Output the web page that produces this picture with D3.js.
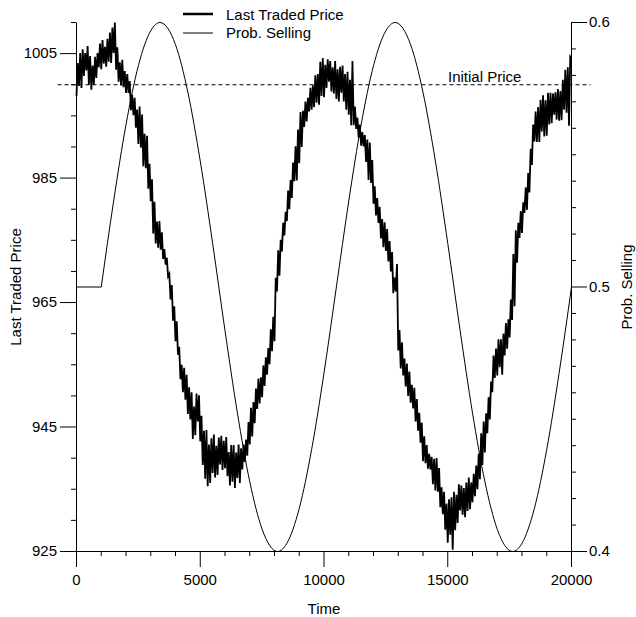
<!DOCTYPE html>
<html>
<head>
<meta charset="utf-8">
<script src="https://cdn.jsdelivr.net/npm/d3@7"></script>
<style>
  body { margin: 0; background: #fff; }
  svg { display: block; font-family: "Liberation Sans", Arial, Helvetica, sans-serif; }
</style>
</head>
<body>
<div id="chart"></div>
<script>
// last traded price, one reading every 50 time steps (0 .. 20000)
const priceStep = 50;
const priceValues = [
  998.2, 1003.5, 999.8, 1005.1, 999.5, 1005.7, 1001.4, 1005.1, 1002.3, 1006.2,
  1000.0, 1004.6, 999.2, 1003.1, 1000.0, 1004.5, 1001.1, 1005.1, 1002.8, 1006.6,
  1002.5, 1007.2, 1003.4, 1006.1, 1002.9, 1007.4, 1003.7, 1008.4, 1003.5, 1009.2,
  1005.1, 1010.0, 1002.4, 1006.0, 1000.5, 1003.6, 999.9, 1004.0, 999.6, 1002.2,
  998.7, 1001.7, 998.7, 1000.6, 995.9, 998.4, 995.1, 997.9, 993.1, 996.0,
  990.5, 996.5, 989.9, 995.2, 986.9, 992.1, 986.6, 991.8, 983.3, 987.3,
  981.3, 984.8, 976.1, 981.2, 974.5, 978.0, 973.8, 978.1, 973.5, 976.3,
  972.0, 973.6, 971.1, 972.2, 969.2, 969.6, 965.5, 967.8, 962.1, 964.4,
  958.8, 962.0, 956.6, 957.9, 952.7, 955.0, 950.6, 954.5, 949.4, 953.4,
  947.1, 951.4, 946.2, 950.6, 943.1, 948.3, 943.7, 950.4, 945.9, 950.1,
  942.7, 946.8, 938.9, 944.4, 936.7, 944.5, 935.5, 942.2, 936.0, 943.2,
  937.6, 943.8, 936.9, 942.0, 937.3, 943.3, 939.0, 943.6, 938.1, 942.8,
  938.4, 943.4, 937.1, 941.0, 935.6, 942.1, 936.2, 942.1, 935.2, 940.9,
  936.8, 942.2, 936.0, 941.6, 938.2, 942.2, 939.4, 943.0, 940.4, 945.8,
  942.2, 948.1, 943.5, 949.0, 945.6, 951.2, 947.9, 952.8, 948.8, 953.0,
  949.8, 954.9, 951.6, 956.2, 953.4, 957.7, 955.1, 960.7, 957.2, 962.7,
  958.8, 969.0, 966.8, 973.4, 969.3, 975.1, 973.2, 977.8, 975.8, 979.6,
  978.1, 983.0, 980.0, 984.7, 981.8, 987.5, 984.5, 990.1, 984.6, 992.8,
  987.4, 995.6, 990.0, 995.8, 993.2, 997.3, 994.1, 997.9, 995.7, 999.5,
  996.0, 999.9, 996.4, 1001.5, 997.1, 1001.7, 996.8, 1003.7, 998.2, 1004.3,
  998.0, 1003.2, 999.5, 1004.1, 1000.5, 1003.8, 998.9, 1002.8, 998.6, 1003.8,
  997.7, 1002.5, 997.3, 1002.9, 998.7, 1003.1, 997.3, 1001.7, 996.0, 1002.1,
  995.2, 1000.8, 993.5, 1003.8, 993.5, 996.5, 992.9, 994.7, 991.5, 993.6,
  990.2, 992.4, 990.1, 991.9, 987.6, 991.2, 984.7, 990.7, 984.2, 987.9,
  980.9, 983.7, 979.0, 981.8, 977.8, 980.4, 975.3, 978.4, 973.9, 977.9,
  973.3, 976.8, 971.6, 974.9, 970.0, 973.1, 966.5, 969.0, 966.8, 971.2,
  957.3, 960.6, 954.4, 958.6, 953.3, 956.0, 951.5, 955.2, 950.0, 953.9,
  948.9, 951.8, 948.0, 951.3, 945.9, 949.5, 944.4, 947.3, 942.5, 945.7,
  939.5, 943.5, 939.2, 942.1, 938.3, 940.7, 938.2, 940.2, 935.8, 939.9,
  934.8, 940.0, 934.6, 938.4, 932.1, 935.3, 931.0, 934.6, 928.5, 932.7,
  926.4, 933.4, 927.7, 933.7, 925.3, 934.6, 928.4, 934.1, 929.6, 935.8,
  931.6, 935.6, 930.9, 935.2, 930.5, 936.1, 931.5, 936.9, 931.8, 936.1,
  932.9, 937.5, 933.9, 938.8, 935.0, 940.7, 936.6, 944.0, 938.9, 945.9,
  940.9, 947.2, 944.0, 949.8, 946.2, 952.3, 950.6, 956.5, 952.9, 957.6,
  953.3, 959.1, 954.6, 959.1, 953.4, 960.0, 956.5, 961.7, 957.6, 962.3,
  959.4, 965.5, 962.2, 972.8, 964.4, 976.6, 971.4, 977.8, 975.4, 979.7,
  976.2, 981.1, 979.4, 983.5, 979.9, 985.8, 982.7, 989.7, 987.1, 993.6,
  990.9, 995.7, 990.8, 996.4, 990.8, 997.6, 992.5, 998.3, 991.7, 997.5,
  991.8, 998.7, 993.6, 998.7, 993.8, 998.6, 995.2, 998.8, 994.4, 999.3,
  994.2, 999.0, 994.3, 1000.8, 996.0, 1002.4, 995.5, 1002.8, 993.4, 1004.5,
  1004.2
];

// probability of selling: flat until 1000, then the swing
const probTimes = [0, 1000, 1500, 2000, 2500, 3000, 3375, 4000, 4500, 5000, 5500,
  6000, 6500, 7000, 7500, 8125, 8500, 9000, 9500, 10000, 10500, 11000, 11500,
  12000, 12500, 12875, 13500, 14000, 14500, 15000, 15500, 16000, 16500, 17000,
  17625, 18000, 18500, 19000, 19500, 20000];
const probValues = [0.5, 0.5, 0.5325, 0.5614, 0.5837, 0.5969, 0.6, 0.5916, 0.5736,
  0.5476, 0.5165, 0.4835, 0.4524, 0.4264, 0.4084, 0.4, 0.4031, 0.4163, 0.4386,
  0.4675, 0.5, 0.5325, 0.5614, 0.5837, 0.5969, 0.6, 0.5916, 0.5736, 0.5476,
  0.5165, 0.4835, 0.4524, 0.4264, 0.4084, 0.4, 0.4031, 0.4163, 0.4386, 0.4675, 0.5];

const initialPrice = 1000;
const priceTicks = [925, 945, 965, 985, 1005];
const probTicks = [0.4, 0.5, 0.6];
const timeTicks = [0, 5000, 10000, 15000, 20000];
const legendLabels = ["Last Traded Price", "Prob. Selling"];

//size of svg and plot box
let w = 636;
let h = 617;
let mLeft = 76, mRight = 571, mTop = 22, mBottom = 551;
let fontSize = 15;

let svg = d3.select("#chart")
  .append("svg")
  .attr("width", w)
  .attr("height", h);

let x = d3.scaleLinear().domain([0, 20000]).range([mLeft, mRight]);
let yPrice = d3.scaleLinear().domain([925, 1010]).range([mBottom, mTop]);
let yProb = d3.scaleLinear().domain([0.4, 0.6]).range([mBottom, mTop]);

// minor ticks first, then the labelled ones on top
function styleAxis(g) {
  g.attr("font-family", null).attr("font-size", fontSize);
  g.selectAll("line, path").attr("stroke", "#000");
}

svg.append("g")
  .attr("transform", `translate(${mLeft},0)`)
  .call(d3.axisLeft(yPrice)
    .tickValues(d3.range(925, 1011, 5).filter(v => !priceTicks.includes(v)))
    .tickSize(5).tickSizeOuter(0).tickFormat(""))
  .call(g => g.select(".domain").remove())
  .call(styleAxis);

svg.append("g")
  .attr("transform", `translate(${mLeft},0)`)
  .call(d3.axisLeft(yPrice).tickValues(priceTicks).tickSize(16).tickSizeOuter(0)
    .tickPadding(3).tickFormat(d3.format("d")))
  .call(styleAxis);

svg.append("g")
  .attr("transform", `translate(${mRight},0)`)
  .call(d3.axisRight(yProb)
    .tickValues(d3.range(40, 61).map(v => v / 100).filter(v => !probTicks.includes(v)))
    .tickSize(5).tickSizeOuter(0).tickFormat(""))
  .call(g => g.select(".domain").remove())
  .call(styleAxis);

svg.append("g")
  .attr("transform", `translate(${mRight},0)`)
  .call(d3.axisRight(yProb).tickValues(probTicks).tickSize(16).tickSizeOuter(0)
    .tickPadding(2).tickFormat(d3.format(".1f")))
  .call(styleAxis);

svg.append("g")
  .attr("transform", `translate(0,${mBottom})`)
  .call(d3.axisBottom(x)
    .tickValues(d3.range(0, 20001, 1000).filter(v => !timeTicks.includes(v)))
    .tickSize(5).tickSizeOuter(0).tickFormat(""))
  .call(g => g.select(".domain").remove())
  .call(styleAxis);

svg.append("g")
  .attr("transform", `translate(0,${mBottom})`)
  .call(d3.axisBottom(x).tickValues(timeTicks).tickSize(16).tickSizeOuter(0)
    .tickPadding(7).tickFormat(d3.format("d")))
  .call(styleAxis);

// axis titles
svg.append("text")
  .attr("x", (mLeft + mRight) / 2 + 0.5)
  .attr("y", 614)
  .attr("text-anchor", "middle")
  .attr("font-size", fontSize)
  .text("Time");

svg.append("text")
  .attr("transform", `translate(21,${(mTop + mBottom) / 2 + 0.5}) rotate(-90)`)
  .attr("text-anchor", "middle")
  .attr("font-size", fontSize)
  .text("Last Traded Price");

svg.append("text")
  .attr("transform", `translate(632,${(mTop + mBottom) / 2 + 0.5}) rotate(-90)`)
  .attr("text-anchor", "middle")
  .attr("font-size", fontSize)
  .text("Prob. Selling");

// plot lines, shifted half a pixel to sit on the axis grid
let plot = svg.append("g").attr("transform", "translate(0.5,0.5)");

plot.append("line")
  .attr("x1", 57).attr("x2", 590)
  .attr("y1", yPrice(initialPrice)).attr("y2", yPrice(initialPrice))
  .attr("stroke", "#000")
  .attr("stroke-width", 1)
  .attr("stroke-dasharray", "4,3");

plot.append("text")
  .attr("x", 447.5)
  .attr("y", yPrice(initialPrice) - 3)
  .attr("font-size", fontSize)
  .text("Initial Price");

// flat start and the smooth swing are drawn as two pieces so the corner stays sharp
let probPoints = probTimes.map((t, i) => [t, probValues[i]]);
let probLine = d3.line()
  .x(d => x(d[0]))
  .y(d => yProb(d[1]))
  .curve(d3.curveMonotoneX);

plot.selectAll("path.prob")
  .data([probPoints.slice(0, 2), probPoints.slice(1)])
  .join("path")
  .attr("class", "prob")
  .attr("d", probLine)
  .attr("fill", "none")
  .attr("stroke", "#000")
  .attr("stroke-width", 1);

let priceLine = d3.line()
  .x((d, i) => x(i * priceStep))
  .y(d => yPrice(d));

plot.append("path")
  .attr("d", priceLine(priceValues))
  .attr("fill", "none")
  .attr("stroke", "#000")
  .attr("stroke-width", 1.8);

// legend
let legend = svg.append("g");
legend.selectAll("line")
  .data(legendLabels)
  .join("line")
  .attr("x1", 183).attr("x2", 213)
  .attr("y1", (d, i) => i == 0 ? 14 : 33)
  .attr("y2", (d, i) => i == 0 ? 14 : 33)
  .attr("stroke", "#000")
  .attr("stroke-width", (d, i) => i == 0 ? 2.5 : 1);

legend.selectAll("text")
  .data(legendLabels)
  .join("text")
  .attr("x", 226)
  .attr("y", (d, i) => i == 0 ? 19.5 : 38)
  .attr("font-size", fontSize)
  .text(d => d);
</script>
</body>
</html>
